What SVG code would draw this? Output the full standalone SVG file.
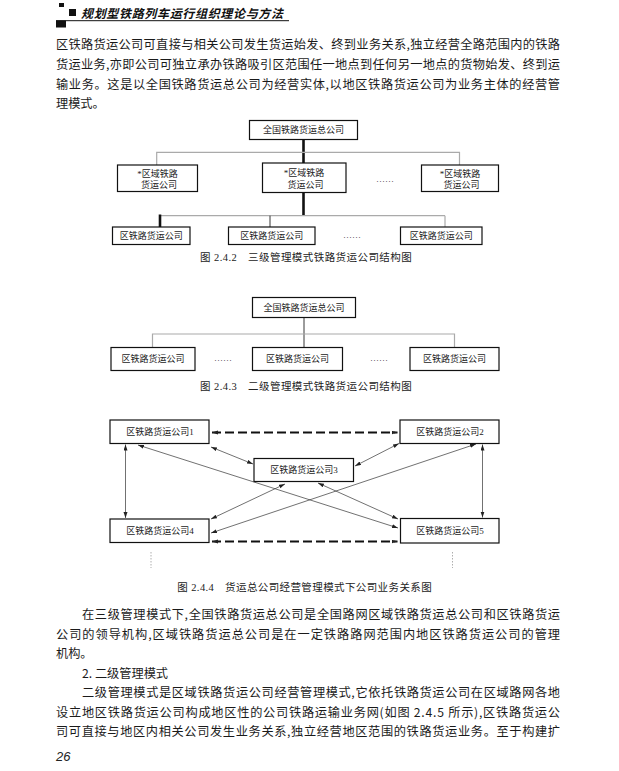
<svg xmlns="http://www.w3.org/2000/svg" width="619" height="771" viewBox="0 0 619 771">
<defs>
<style>
.bg{fill:#fff}
.t{font-family:"Noto Sans CJK SC","Liberation Serif",serif;font-size:12.2px;fill:#1a1a1a;dominant-baseline:central}
.hd{font-family:"Noto Sans CJK SC",sans-serif;font-size:12px;font-weight:bold;font-style:italic;fill:#111;dominant-baseline:central}
.cap{font-family:"Liberation Serif","Noto Sans CJK SC",serif;font-size:10.5px;fill:#222;dominant-baseline:central}
.nt{font-family:"Liberation Serif","Noto Sans CJK SC",serif;font-size:9px;fill:#222;dominant-baseline:central;text-anchor:middle}
.box{fill:#fff;stroke:#111;stroke-width:1.2}
.thick{stroke:#111;stroke-width:2.6;fill:none}
.thin{stroke:#222;stroke-width:0.9;fill:none}
.gray{stroke:#aaa;stroke-width:1.2;fill:none}
.arr{stroke:#333;stroke-width:0.7;fill:none;marker-start:url(#ah);marker-end:url(#ah)}
.dash{stroke:#111;stroke-width:1.8;fill:none;stroke-dasharray:9 4;marker-start:url(#ah);marker-end:url(#ah)}
.dot{stroke:#999;stroke-width:0.8;stroke-dasharray:1.5 1.5;fill:none}
.dots{font-family:"Liberation Serif",serif;font-size:9px;fill:#333;text-anchor:middle}
</style>
<marker id="ah" markerUnits="userSpaceOnUse" markerWidth="8" markerHeight="6" refX="6" refY="2" orient="auto-start-reverse">
<path d="M0,0 L6,2 L0,4 z" fill="#222"/>
</marker>
</defs>
<rect class="bg" x="0" y="0" width="619" height="771"/>

<g id="header">
<rect x="59" y="3" width="5" height="4" fill="#111"/>
<rect x="69" y="9" width="7" height="7" fill="#111"/>
<rect x="56" y="20.5" width="10" height="7" fill="#111"/>
<line x1="56" y1="20.7" x2="289" y2="20.7" stroke="#111" stroke-width="1"/>
<text class="hd" x="81" y="12" textLength="202" lengthAdjust="spacing">规划型铁路列车运行组织理论与方法</text>
</g>

<g id="para1">
<text class="t" x="56" y="44" textLength="504" lengthAdjust="spacing">区铁路货运公司可直接与相关公司发生货运始发、终到业务关系,独立经营全路范围内的铁路</text>
<text class="t" x="56" y="64" textLength="504" lengthAdjust="spacing">货运业务,亦即公司可独立承办铁路吸引区范围任一地点到任何另一地点的货物始发、终到运</text>
<text class="t" x="56" y="84" textLength="504" lengthAdjust="spacing">输业务。这是以全国铁路货运总公司为经营实体,以地区铁路货运公司为业务主体的经营管</text>
<text class="t" x="56" y="103">理模式。</text>
</g>

<!-- Figure 2.4.2 -->
<g id="fig242-connectors">
<line class="thick" x1="303.5" y1="139" x2="303.5" y2="163"/>
<polyline class="gray" points="156.7,165 156.7,152.3 459.5,152.3 459.5,165"/>
<line class="thick" x1="303.5" y1="192.5" x2="303.5" y2="215.7"/>
<line class="gray" x1="160" y1="215.7" x2="445" y2="215.7"/>
<line class="thick" x1="160" y1="214.5" x2="160" y2="227"/>
<line class="thin" x1="270" y1="215.7" x2="270" y2="227"/>
<line class="gray" x1="445" y1="215.7" x2="445" y2="227"/>
</g>
<g id="f2-top"><rect class="box" x="249.5" y="120.5" width="108" height="19"/><text class="nt" x="303.5" y="130">全国铁路货运总公司</text></g>
<g id="f2-r1"><rect class="box" x="117.5" y="165" width="80" height="26.5"/><text class="nt" x="157.5" y="173.5">*区域铁路</text><text class="nt" x="159" y="185">货运公司</text></g>
<g id="f2-r2"><rect class="box" x="262.5" y="163" width="83.5" height="29.5"/><text class="nt" x="304" y="173">*区域铁路</text><text class="nt" x="305.5" y="184.5">货运公司</text></g>
<g id="f2-r3"><rect class="box" x="421.5" y="165" width="77" height="26.5"/><text class="nt" x="460" y="173.5">*区域铁路</text><text class="nt" x="461.5" y="185">货运公司</text></g>
<text class="dots" x="385" y="182">……</text>
<g id="f2-b1"><rect class="box" x="112.5" y="227" width="77.5" height="17.5"/><text class="nt" x="151.3" y="236">区铁路货运公司</text></g>
<g id="f2-b2"><rect class="box" x="228.5" y="227" width="86.5" height="17.5"/><text class="nt" x="271.7" y="236">区铁路货运公司</text></g>
<g id="f2-b3"><rect class="box" x="400.5" y="227" width="81.5" height="17.5"/><text class="nt" x="441.2" y="236">区铁路货运公司</text></g>
<text class="dots" x="352" y="238">……</text>
<text class="cap" x="200" y="257.5" textLength="211.7" lengthAdjust="spacing">图 2.4.2　三级管理模式铁路货运公司结构图</text>

<!-- Figure 2.4.3 -->
<g id="fig243-connectors">
<line class="thin" x1="304" y1="317.5" x2="304" y2="347.5" stroke-width="1.1"/>
<polyline class="gray" points="152.5,347.5 152.5,334 454.5,334 454.5,347.5"/>
</g>
<g id="f3-top"><rect class="box" x="252.5" y="297.5" width="103" height="20"/><text class="nt" x="304" y="307.5">全国铁路货运总公司</text></g>
<g id="f3-b1"><rect class="box" x="111" y="347.5" width="84" height="23"/><text class="nt" x="153" y="359">区铁路货运公司</text></g>
<g id="f3-b2"><rect class="box" x="252.5" y="347.5" width="90" height="23"/><text class="nt" x="297.5" y="359">区铁路货运公司</text></g>
<g id="f3-b3"><rect class="box" x="410" y="347.5" width="89" height="23"/><text class="nt" x="454.5" y="359">区铁路货运公司</text></g>
<text class="dots" x="223" y="361">……</text>
<text class="dots" x="379" y="361">……</text>
<text class="cap" x="200" y="386.5" textLength="211.7" lengthAdjust="spacing">图 2.4.3　二级管理模式铁路货运公司结构图</text>

<!-- Figure 2.4.4 -->
<g id="fig244-connectors">
<line class="dash" x1="212" y1="432.5" x2="397.5" y2="432.5"/>
<line class="dash" x1="212" y1="541.5" x2="397.5" y2="541.5" stroke-width="1.5"/>
<line class="arr" x1="125.5" y1="444.5" x2="125.5" y2="518"/>
<line class="arr" x1="482.5" y1="444.5" x2="482.5" y2="517.5"/>
<line class="arr" x1="211" y1="447" x2="253" y2="464"/>
<line class="arr" x1="399" y1="443.5" x2="355" y2="466"/>
<line class="arr" x1="285" y1="484" x2="211" y2="519"/>
<line class="arr" x1="318" y1="483" x2="398" y2="519"/>
<line class="arr" x1="138" y1="445" x2="398" y2="528"/>
<line class="arr" x1="476" y1="444" x2="211" y2="533"/>
<line class="dot" x1="151" y1="552" x2="151" y2="568"/>
<line class="dot" x1="452.5" y1="552" x2="452.5" y2="568"/>
</g>
<g id="f4-c1"><rect class="box" x="110" y="420" width="99" height="23.5"/><text class="nt" x="160" y="432">区铁路货运公司1</text></g>
<g id="f4-c2"><rect class="box" x="400" y="420" width="99" height="23.5"/><text class="nt" x="450" y="432">区铁路货运公司2</text></g>
<g id="f4-c3"><rect class="box" x="254" y="458.5" width="99.5" height="23"/><text class="nt" x="304" y="470">区铁路货运公司3</text></g>
<g id="f4-c4"><rect class="box" x="110" y="519" width="99" height="23.5"/><text class="nt" x="160" y="531">区铁路货运公司4</text></g>
<g id="f4-c5"><rect class="box" x="400.5" y="518.5" width="98.5" height="24.5"/><text class="nt" x="450" y="531">区铁路货运公司5</text></g>
<text class="cap" x="177.3" y="587.5" textLength="254.4" lengthAdjust="spacing">图 2.4.4　货运总公司经营管理模式下公司业务关系图</text>

<g id="para2">
<text class="t" x="82" y="614" textLength="478" lengthAdjust="spacing">在三级管理模式下,全国铁路货运总公司是全国路网区域铁路货运总公司和区铁路货运</text>
<text class="t" x="56" y="633.5" textLength="504" lengthAdjust="spacing">公司的领导机构,区域铁路货运总公司是在一定铁路路网范围内地区铁路货运公司的管理</text>
<text class="t" x="56" y="653">机构。</text>
<text class="t" x="82" y="672.5">2. 二级管理模式</text>
<text class="t" x="82" y="692" textLength="478" lengthAdjust="spacing">二级管理模式是区域铁路货运公司经营管理模式,它依托铁路货运公司在区域路网各地</text>
<text class="t" x="56" y="711.5" textLength="504" lengthAdjust="spacing">设立地区铁路货运公司构成地区性的公司铁路运输业务网(如图 2.4.5 所示),区铁路货运公</text>
<text class="t" x="56" y="731" textLength="504" lengthAdjust="spacing">司可直接与地区内相关公司发生业务关系,独立经营地区范围的铁路货运业务。至于构建扩</text>
</g>
<text x="56" y="756" font-family="Liberation Sans,Arial,sans-serif" font-size="13" font-style="italic" fill="#222" dominant-baseline="central">26</text>
</svg>
